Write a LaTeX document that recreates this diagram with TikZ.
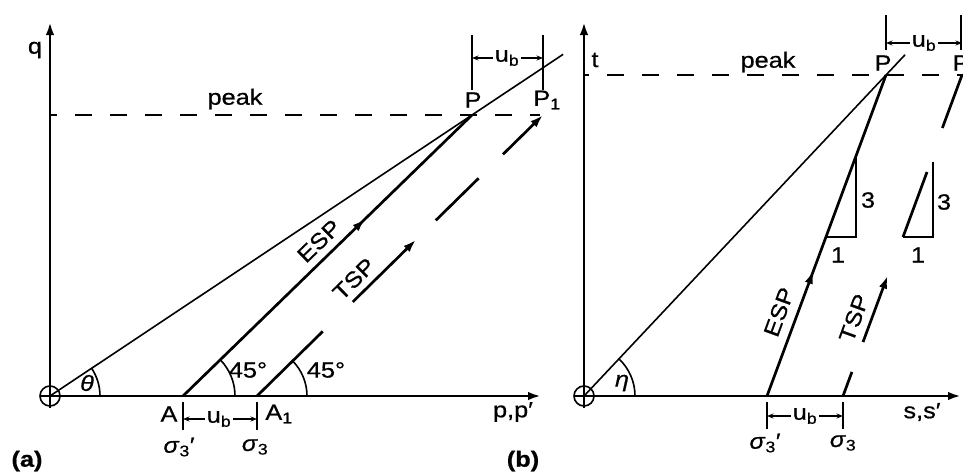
\documentclass[tikz,border=0pt]{standalone}
\usepackage{fontspec}
\setmainfont{Liberation Sans}[FakeStretch=1.15,FakeBold=0.7]
\usetikzlibrary{arrows.meta,calc,decorations.markings,angles}
\begin{document}
\begin{tikzpicture}[x=1pt,y=-1pt,
  axisline/.style={line width=2.6pt,-{Latex[length=13pt,width=8.5pt]}},
  pathline/.style={line width=2.7pt},
  envline/.style={line width=1.6pt},
  peakline/.style={line width=2.7pt,dash pattern=on 17pt off 18pt},
  ticklin/.style={line width=1.6pt},
  dimarrow/.style={line width=1.4pt,-{Stealth[length=6.5pt,width=5pt]}},
  tipend/.style={-{Latex[length=13pt,width=8.5pt]}},
  lbl/.style={font=\fontsize{22}{25}\selectfont,inner sep=0pt},
  midtip/.style={postaction={decorate},decoration={markings,mark=at position #1 with {\arrow{Latex[length=13pt,width=8.5pt]}}}},
  anglearc/.style={draw,line width=1.6pt},
]
\useasboundingbox (0,0) rectangle (963,471);

%% ---------------- Panel (a) ----------------
\coordinate (O1) at (50,396);
\coordinate (qtop) at (50,22);
\coordinate (pend) at (541,396);
\coordinate (A) at (183,396);
\coordinate (A1) at (257,396);
\coordinate (P) at (472,115);
\coordinate (P1) at (543,115);
\coordinate (pkA0) at (50,115);
\coordinate (pkA1) at (540,115);

\draw[axisline] (O1) -- (qtop);
\draw[axisline] (O1) -- (pend);
\draw[envline] (O1) circle[radius=10pt];
\draw[envline] ($(O1)+(-10,0)$) -- ($(O1)+(10,0)$);
\draw[envline] ($(O1)+(0,-10)$) -- ($(O1)+(0,12)$);

\draw[peakline,dash phase=10pt] (pkA0) -- (pkA1);
\draw[envline] (O1) -- ($(O1)!1.216!(P)$);
\draw[pathline,midtip=0.63] (A) -- (P);
\draw[pathline] (A1) -- ($(A1)!0.23!(P1)$);
\draw[pathline,tipend] ($(A1)!0.335!(P1)$) -- ($(A1)!0.556!(P1)$);
\draw[pathline] ($(A1)!0.625!(P1)$) -- ($(A1)!0.775!(P1)$);
\draw[pathline,tipend] ($(A1)!0.86!(P1)$) -- (P1);

\pic[anglearc,angle radius=50pt] {angle=pend--O1--P};
\pic[anglearc,angle radius=52pt] {angle=pend--A--P};
\pic[anglearc,angle radius=50pt] {angle=pend--A1--P1};

% ticks and dimensions (a)
\draw[ticklin] (183,402) -- (183,430);
\draw[ticklin] (257,402) -- (257,430);
\node[lbl] (ubA) at (219,419) {u\textsubscript{b}};
\draw[dimarrow] ([xshift=-2pt]ubA.west) -- (ubA.west -| A);
\draw[dimarrow] ([xshift=2pt]ubA.east) -- (ubA.east -| A1);
\draw[ticklin] (472,35) -- (472,90);
\draw[ticklin] (543,35) -- (543,90);
\node[lbl] (ubAt) at (507,58) {u\textsubscript{b}};
\draw[dimarrow] ([xshift=-2pt]ubAt.west) -- (ubAt.west -| P);
\draw[dimarrow] ([xshift=2pt]ubAt.east) -- (ubAt.east -| P1);

\node[lbl] (qlab) at (35,50) {q};
\node[lbl] (pkA) at (235,99) {peak};
\node[lbl] (Plab) at (473,100) {P};
\node[lbl] (P1lab) at (547,100) {P\textsubscript{1}};
\node[lbl,rotate=44] (esp) at (319,241) {ESP};
\node[lbl,rotate=44.6] (tsp) at (354,279) {TSP};
\node[lbl] (ang1) at (248,370) {45°};
\node[lbl] (ang2) at (326,370) {45°};
\node[lbl] (th) at (87,383) {\textit{θ}};
\node[lbl] (Alab) at (169,414) {A};
\node[lbl] (A1lab) at (279,414) {A\textsubscript{1}};
\node[lbl] (s3pa) at (179,447) {\textit{σ}\textsubscript{3}′};
\node[lbl] (s3a) at (255,447) {\textit{σ}\textsubscript{3}};
\node[lbl] (pp) at (513,412) {p,p′};
\node[lbl,font=\fontsize{22}{25}\selectfont\bfseries] (la) at (27,461) {(a)};

%% ---------------- Panel (b) ----------------
\coordinate (O2) at (584,396);
\coordinate (ttop) at (584,22);
\coordinate (send) at (961,396);
\coordinate (S3p) at (767,396);
\coordinate (S3) at (843,396);
\coordinate (Pb) at (886,75);
\coordinate (Pb1) at (962,75);
\coordinate (pkB0) at (584,75);
\coordinate (pkB1) at (963,75);

\draw[axisline] (O2) -- (ttop);
\draw[axisline] (O2) -- (send);
\draw[envline] (O2) circle[radius=10pt];
\draw[envline] ($(O2)+(-10,0)$) -- ($(O2)+(10,0)$);
\draw[envline] ($(O2)+(0,-10)$) -- ($(O2)+(0,12)$);

\draw[peakline,dash phase=12pt] (pkB0) -- (pkB1);
\draw[envline] (O2) -- ($(O2)!1.063!(Pb)$);
\draw[pathline,midtip=0.39] (S3p) -- (Pb);
\draw[pathline] (S3) -- ($(S3)!0.075!(Pb1)$);
\draw[pathline,tipend] ($(S3)!0.168!(Pb1)$) -- ($(S3)!0.375!(Pb1)$);
\draw[pathline] ($(S3)!0.835!(Pb1)$) -- (Pb1);

\pic[anglearc,angle radius=51pt] {angle=send--O2--Pb};

% slope triangles
\draw[envline] ($(S3p)!0.4953!(Pb)$) -- (856,237) -- ($(S3p)!0.748!(Pb)$);
\draw[envline] (903,237) -- (933,237) -- (933,162);
\draw[pathline] (903,237) -- (927,172);
\node[lbl] (n3a) at (868,200) {3};
\node[lbl] (n1a) at (838,255) {1};
\node[lbl] (n3b) at (944,202) {3};
\node[lbl] (n1b) at (918,255) {1};

% ticks and dimensions (b)
\draw[ticklin] (767,402) -- (767,429);
\draw[ticklin] (843,402) -- (843,429);
\node[lbl] (ubB) at (805,416) {u\textsubscript{b}};
\draw[dimarrow] ([xshift=-2pt]ubB.west) -- (ubB.west -| S3p);
\draw[dimarrow] ([xshift=2pt]ubB.east) -- (ubB.east -| S3);
\draw[ticklin] (886,15) -- (886,50);
\draw[ticklin] (961,15) -- (961,50);
\node[lbl] (ubBt) at (924,43) {u\textsubscript{b}};
\draw[dimarrow] ([xshift=-2pt]ubBt.west) -- (ubBt.west -| Pb);
\draw[dimarrow] ([xshift=2pt]ubBt.east) -- (ubBt.east -| Pb1);

\node[lbl] (tlab) at (595,60) {t};
\node[lbl] (pkB) at (768,62) {peak};
\node[lbl] (Pblab) at (883,63) {P};
\node[lbl] (Pb1lab) at (961,63) {P};
\node[lbl,rotate=70] (espb) at (779,312) {ESP};
\node[lbl,rotate=70] (tspb) at (854,318) {TSP};
\node[lbl] (eta) at (622,383) {\textit{η}};
\node[lbl] (s3pb) at (765,443) {\textit{σ}\textsubscript{3}′};
\node[lbl] (s3b) at (843,443) {\textit{σ}\textsubscript{3}};
\node[lbl] (ss) at (922,412) {s,s′};
\node[lbl,font=\fontsize{22}{25}\selectfont\bfseries] (lb) at (523,461) {(b)};
\end{tikzpicture}
\end{document}
